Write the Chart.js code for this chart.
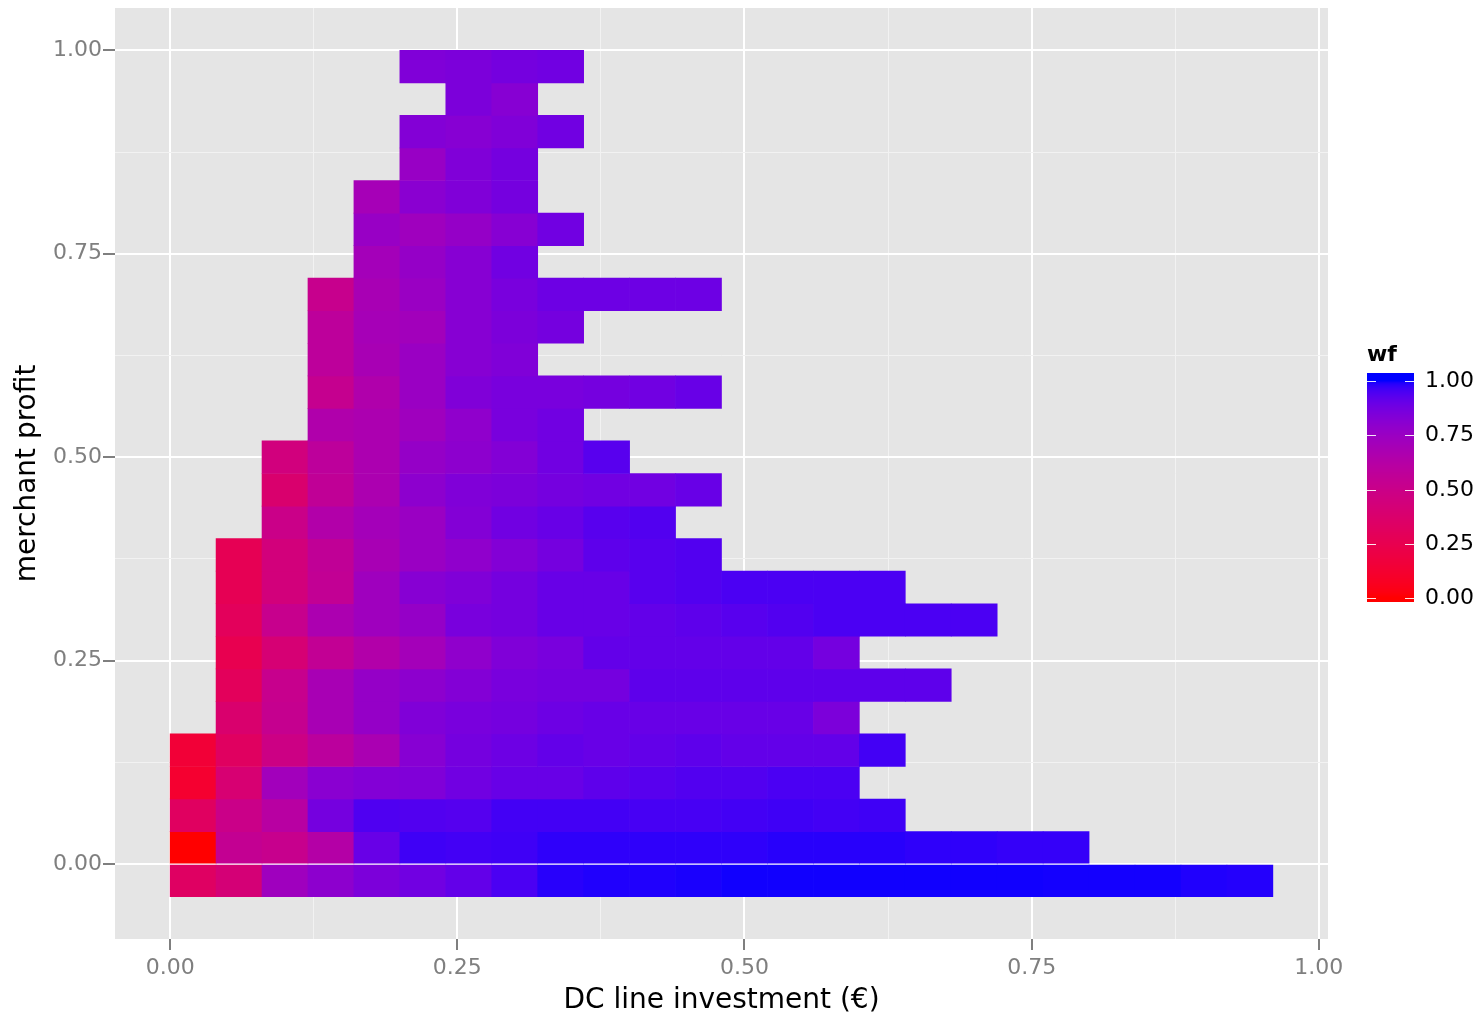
<!DOCTYPE html>
<html><head><meta charset="utf-8">
<script src="https://cdn.jsdelivr.net/npm/chart.js@4.4.1/dist/chart.umd.min.js"></script>
<style>html,body{margin:0;padding:0;background:#fff;}canvas{display:block;}</style>
</head><body>
<canvas id="c" width="1479" height="1018"></canvas>
<script>
// ---------- data ----------
const binWidth = 0.04;
const xBinLeft = [0.00,0.04,0.08,0.12,0.16,0.20,0.24,0.28,0.32,0.36,0.40,0.44,0.48,0.52,0.56,0.60,0.64,0.68,0.72,0.76,0.80,0.84,0.88,0.92];
const yBinBottom = [-0.04,0.00,0.04,0.08,0.12,0.16,0.20,0.24,0.28,0.32,0.36,0.40,0.44,0.48,0.52,0.56,0.60,0.64,0.68,0.72,0.76,0.80,0.84,0.88,0.92,0.96];
const rowStartCol = [0,0,0,0,0,1,1,1,1,1,1,2,2,2,3,3,3,3,3,4,4,4,5,5,6,5];
const wfRows = [
  [0.33,0.42,0.73,0.80,0.85,0.88,0.91,0.95,0.985,0.99,0.99,0.993,0.996,0.996,0.996,0.996,0.996,0.996,0.996,0.995,0.995,0.995,0.99,0.988],
  [0.00,0.54,0.52,0.63,0.90,0.965,0.96,0.965,0.98,0.98,0.98,0.98,0.98,0.985,0.985,0.985,0.98,0.98,0.975,0.975],
  [0.32,0.50,0.61,0.87,0.945,0.94,0.935,0.96,0.96,0.96,0.955,0.955,0.96,0.965,0.96,0.965],
  [0.12,0.40,0.72,0.81,0.83,0.84,0.88,0.90,0.90,0.92,0.93,0.94,0.94,0.95,0.95],
  [0.15,0.32,0.48,0.59,0.68,0.82,0.87,0.89,0.91,0.90,0.91,0.92,0.91,0.91,0.91,0.96],
  [0.38,0.53,0.69,0.77,0.84,0.86,0.87,0.89,0.90,0.90,0.90,0.90,0.90,0.85],
  [0.30,0.52,0.69,0.77,0.80,0.83,0.86,0.87,0.87,0.92,0.92,0.92,0.92,0.92,0.92,0.92],
  [0.25,0.41,0.55,0.64,0.71,0.79,0.84,0.86,0.91,0.91,0.91,0.91,0.91,0.87],
  [0.30,0.52,0.67,0.73,0.77,0.86,0.87,0.90,0.90,0.91,0.92,0.93,0.94,0.95,0.95,0.95,0.95],
  [0.27,0.44,0.55,0.73,0.82,0.84,0.87,0.90,0.90,0.93,0.94,0.95,0.95,0.95,0.95],
  [0.27,0.44,0.56,0.69,0.75,0.79,0.83,0.87,0.92,0.93,0.94],
  [0.50,0.64,0.71,0.75,0.83,0.88,0.90,0.93,0.94],
  [0.38,0.56,0.67,0.80,0.84,0.85,0.87,0.88,0.88,0.90],
  [0.45,0.58,0.67,0.77,0.80,0.83,0.88,0.93],
  [0.65,0.67,0.73,0.79,0.86,0.88],
  [0.53,0.65,0.75,0.84,0.86,0.86,0.87,0.88,0.90],
  [0.58,0.69,0.75,0.82,0.84],
  [0.58,0.70,0.72,0.82,0.85,0.87],
  [0.52,0.69,0.75,0.82,0.86,0.89,0.89,0.89,0.89],
  [0.71,0.77,0.82,0.88],
  [0.76,0.73,0.77,0.82,0.88],
  [0.70,0.81,0.84,0.87],
  [0.76,0.84,0.87],
  [0.83,0.82,0.84,0.88],
  [0.85,0.82],
  [0.84,0.85,0.87,0.88]
];
const xMajorTicks = [0, 0.25, 0.5, 0.75, 1];
const xMinorTicks = [0.125, 0.375, 0.625, 0.875];
const yMajorTicks = [0, 0.25, 0.5, 0.75, 1];
const yMinorTicks = [0.125, 0.375, 0.625, 0.875];
const legendTicks = [0, 0.25, 0.5, 0.75, 1];
const xTitle = 'DC line investment (€)';
const yTitle = 'merchant profit';
const legendTitle = 'wf';
const lowColor = [255, 0, 0];
const highColor = [0, 0, 255];

// ---------- colour scale (Lab interpolation, like ggplot2) ----------
const WHITE = [0.95047, 1, 1.08883];
function toLin(c){ c/=255; return c<=0.04045 ? c/12.92 : Math.pow((c+0.055)/1.055, 2.4); }
function toSrgb(c){ c = c<=0.0031308 ? 12.92*c : 1.055*Math.pow(Math.max(c,0),1/2.4)-0.055; return Math.round(Math.max(0,Math.min(1,c))*255); }
function rgbToLab(rgb){
  const R=toLin(rgb[0]),G=toLin(rgb[1]),B=toLin(rgb[2]);
  const X=0.4124564*R+0.3575761*G+0.1804375*B, Y=0.2126729*R+0.7151522*G+0.0721750*B, Z=0.0193339*R+0.1191920*G+0.9503041*B;
  const f=t=>t>0.008856?Math.cbrt(t):(7.787*t+16/116);
  const fx=f(X/WHITE[0]), fy=f(Y/WHITE[1]), fz=f(Z/WHITE[2]);
  return [116*fy-16, 500*(fx-fy), 200*(fy-fz)];
}
function labToRgb(lab){
  const fy=(lab[0]+16)/116, fx=fy+lab[1]/500, fz=fy-lab[2]/200;
  const inv=t=>t*t*t>0.008856?t*t*t:(t-16/116)/7.787;
  const X=WHITE[0]*inv(fx), Y=WHITE[1]*inv(fy), Z=WHITE[2]*inv(fz);
  const R=3.2404542*X-1.5371385*Y-0.4985314*Z, G=-0.9692660*X+1.8760108*Y+0.0415560*Z, B=0.0556434*X-0.2040259*Y+1.0572252*Z;
  return [toSrgb(R),toSrgb(G),toSrgb(B)];
}
const labLow = rgbToLab(lowColor), labHigh = rgbToLab(highColor);
function wfColor(t){
  t = Math.max(0, Math.min(1, t));
  const lab = [0,1,2].map(i => labLow[i] + (labHigh[i]-labLow[i])*t);
  const c = labToRgb(lab);
  return 'rgb(' + c[0] + ',' + c[1] + ',' + c[2] + ')';
}

// ---------- build cells ----------
const cells = [], cellColors = [];
wfRows.forEach((row, r) => row.forEach((v, i) => {
  const c = rowStartCol[r] + i;
  cells.push({ x: xBinLeft[c] + binWidth/2, y: [yBinBottom[r], yBinBottom[r] + binWidth], wf: v });
  cellColors.push(wfColor(v));
}));

const FONT = "'DejaVu Sans', 'Liberation Sans', Arial, sans-serif";
const isMajor = (list, v) => list.some(m => Math.abs(m - v) < 1e-9);

const panelPlugin = {
  id: 'panelBg',
  beforeDraw(chart){
    const a = chart.chartArea, ctx = chart.ctx;
    ctx.save(); ctx.fillStyle = '#E5E5E5';
    ctx.fillRect(a.left, a.top, a.right - a.left, a.bottom - a.top);
    ctx.restore();
  }
};

const legendPlugin = {
  id: 'wfLegend',
  afterDraw(chart){
    const ctx = chart.ctx;
    const x0 = 1367, w = 47, yTop = 373, yBot = 602, yAt1 = 381, yAt0 = 598;
    ctx.save();
    for (let y = yTop; y < yBot; y++) {
      const t = (yAt0 - (y + 0.5)) / (yAt0 - yAt1);
      ctx.fillStyle = wfColor(t);
      ctx.fillRect(x0, y, w, 1);
    }
    ctx.strokeStyle = 'rgba(255,255,255,0.9)'; ctx.lineWidth = 1;
    ctx.fillStyle = '#000'; ctx.font = '22px ' + FONT; ctx.textBaseline = 'middle'; ctx.textAlign = 'left';
    legendTicks.forEach(v => {
      const y = Math.round(yAt0 - (yAt0 - yAt1) * v) + 0.5;
      ctx.beginPath(); ctx.moveTo(x0, y); ctx.lineTo(x0 + 9, y); ctx.moveTo(x0 + w - 9, y); ctx.lineTo(x0 + w, y); ctx.stroke();
      ctx.fillText(v.toFixed(2), 1425, y);
    });
    ctx.font = 'bold 22px ' + FONT; ctx.textBaseline = 'alphabetic';
    ctx.fillText(legendTitle, 1367, 361);
    ctx.restore();
  }
};

function gridOpts(major){
  return {
    offset: false,
    color: ctx => isMajor(major, ctx.tick.value) ? '#FFFFFF' : '#F2F2F2',
    lineWidth: ctx => isMajor(major, ctx.tick.value) ? 2 : 1,
    tickColor: ctx => isMajor(major, ctx.tick.value) ? '#7F7F7F' : 'rgba(0,0,0,0)',
    tickWidth: 2,
    drawTicks: true
  };
}

new Chart(document.getElementById('c'), {
  type: 'bar',
  data: { datasets: [{
    data: cells,
    backgroundColor: cellColors,
    borderWidth: 0,
    barPercentage: 1,
    categoryPercentage: 1
  }]},
  options: {
    responsive: false,
    animation: false,
    devicePixelRatio: 1,
    layout: { padding: { left: 0, right: 151, top: 8, bottom: 0 } },
    plugins: { legend: { display: false }, tooltip: { enabled: false } },
    scales: {
      x: {
        type: 'linear', min: -0.048, max: 1.008, offset: false,
        afterBuildTicks: s => { s.ticks = [...xMajorTicks, ...xMinorTicks].sort((a,b)=>a-b).map(v => ({ value: v })); },
        afterFit: s => { s.height = 79; s.paddingLeft = 0; s.paddingRight = 0; },
        ticks: { autoSkip: false, maxRotation: 0, color: '#7F7F7F', padding: 5, font: { family: FONT, size: 22 },
                 callback: v => isMajor(xMajorTicks, v) ? v.toFixed(2) : '' },
        grid: Object.assign(gridOpts(xMajorTicks), { tickLength: 11 }),
        border: { display: false },
        title: { display: true, text: xTitle, color: '#000', font: { family: FONT, size: 28 }, padding: { top: 0, bottom: 0 } }
      },
      y: {
        type: 'linear', min: -0.092, max: 1.052, beginAtZero: false,
        afterBuildTicks: s => { s.ticks = [...yMajorTicks, ...yMinorTicks].sort((a,b)=>a-b).map(v => ({ value: v })); },
        afterFit: s => { s.width = 115; s.paddingTop = 0; s.paddingBottom = 0; },
        ticks: { autoSkip: false, color: '#7F7F7F', padding: 1, font: { family: FONT, size: 22 },
                 callback: v => isMajor(yMajorTicks, v) ? v.toFixed(2) : '' },
        grid: Object.assign(gridOpts(yMajorTicks), { tickLength: 12 }),
        border: { display: false },
        title: { display: true, text: yTitle, color: '#000', font: { family: FONT, size: 28 }, padding: { top: 11, bottom: 0 } }
      }
    }
  },
  plugins: [panelPlugin, legendPlugin]
});
</script>
</body></html>
